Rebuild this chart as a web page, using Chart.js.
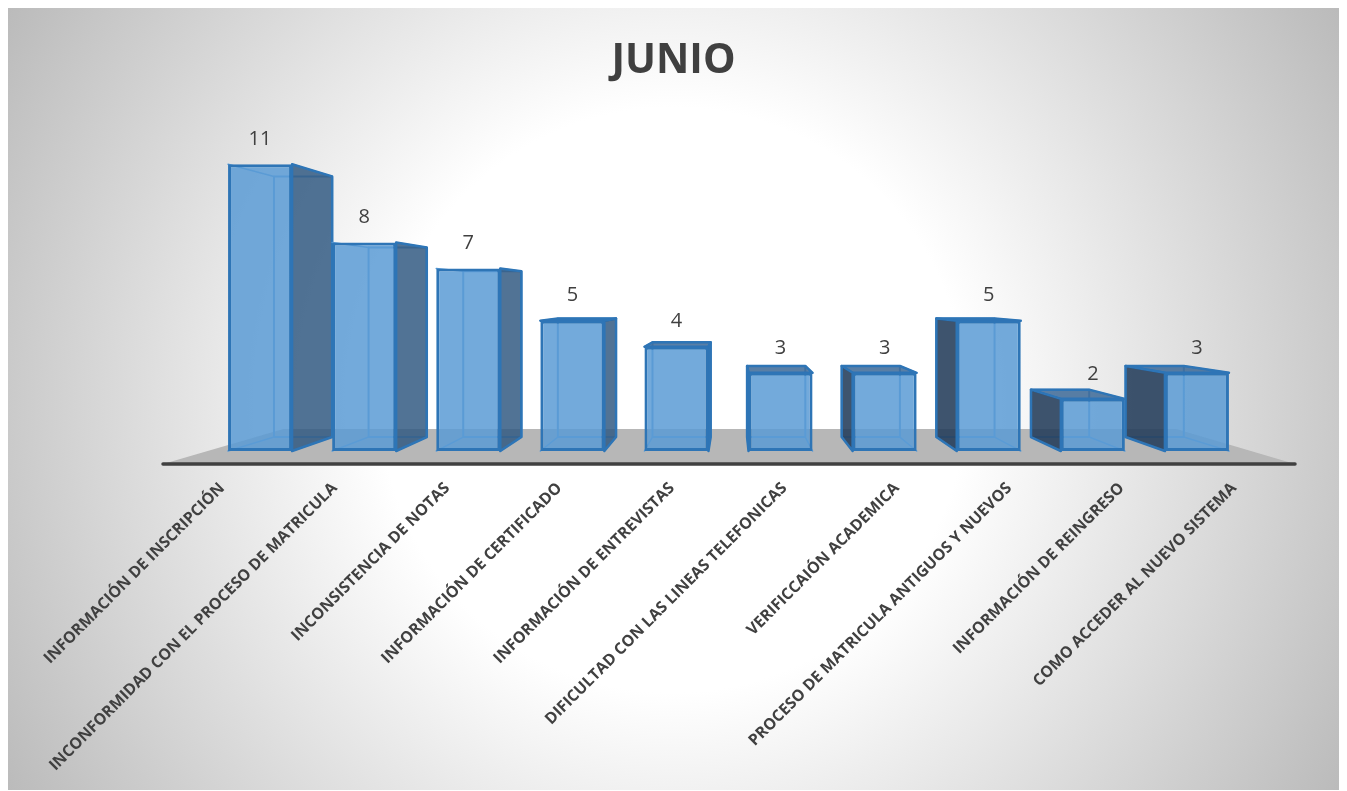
<!DOCTYPE html>
<html lang="es">
<head>
<meta charset="UTF-8" />
<title>JUNIO</title>
<style>
  body {
    margin: 0;
    background: #fff;
  }
  .card {
    position: absolute;
    left: 8px;
    top: 8px;
    width: 1331px;
    height: 782px;
    background: radial-gradient(circle 770px at 665px 392px, #fff 38%, #bbb 100%);
  }
  canvas {
    display: block;
  }
</style>
</head>
<body>

<div class="card">
  <canvas id="chart" width="1331" height="782"></canvas>
</div>

<script src="https://cdn.jsdelivr.net/npm/chart.js"></script>
<script>
const categories = [
    'INFORMACIÓN DE INSCRIPCIÓN',
    'INCONFORMIDAD CON EL PROCESO DE MATRICULA',
    'INCONSISTENCIA DE NOTAS',
    'INFORMACIÓN DE CERTIFICADO',
    'INFORMACIÓN DE ENTREVISTAS',
    'DIFICULTAD CON LAS LINEAS TELEFONICAS',
    'VERIFICCAIÓN ACADEMICA',
    'PROCESO DE MATRICULA ANTIGUOS Y NUEVOS',
    'INFORMACIÓN DE REINGRESO',
    'COMO ACCEDER AL NUEVO SISTEMA'
];
const values = [11, 8, 7, 5, 4, 3, 3, 5, 2, 3];

// perspective of the fake 3D box, in scale units
const VANISH_INDEX = 4.54;
const VANISH_VALUE = 5.88;
const BOX_DEPTH = 0.909;
const FLOOR_DEPTH = 0.789;
const FLOOR_VALUE = -0.5;
const LABEL_SPREAD = 1.08;

const EDGE = '#2e75b6';
const INNER = '#5b9bd5';

function vanishPoint(chart) {
    return {
        x: chart.scales.x.getPixelForValue(VANISH_INDEX),
        y: chart.scales.y.getPixelForValue(VANISH_VALUE)
    };
}

function poly(ctx, pts, fill, stroke, lw) {
    ctx.beginPath();
    pts.forEach((p, i) => i ? ctx.lineTo(p[0], p[1]) : ctx.moveTo(p[0], p[1]));
    ctx.closePath();
    if (fill) { ctx.fillStyle = fill; ctx.fill(); }
    if (stroke) { ctx.strokeStyle = stroke; ctx.lineWidth = lw; ctx.stroke(); }
}

const boxPlugin = {
    id: 'box3d',
    beforeDatasetsDraw(chart) {
        const ctx = chart.ctx;
        const vp = vanishPoint(chart);
        const x = chart.scales.x;
        const y = chart.scales.y;
        const back = (px, py, s) => [vp.x + (px - vp.x) * s, vp.y + (py - vp.y) * s];

        // floor
        const fy = y.getPixelForValue(FLOOR_VALUE);
        const fl = x.left - 45;
        const fr = x.right + 46;
        ctx.save();
        poly(ctx, [[fl, fy], [fr, fy], back(fr, fy, FLOOR_DEPTH), back(fl, fy, FLOOR_DEPTH)], '#b7b7b7');
        ctx.beginPath();
        ctx.moveTo(fl, fy);
        ctx.lineTo(fr, fy);
        ctx.lineCap = 'round';
        ctx.lineWidth = 3.5;
        ctx.strokeStyle = '#404040';
        ctx.stroke();

        chart.getDatasetMeta(0).data.forEach(bar => {
            const l = bar.x - bar.width / 2;
            const r = bar.x + bar.width / 2;
            const t = bar.y;
            const b = bar.base;
            const bs = (px, py) => back(px, py, BOX_DEPTH);

            // inside lines seen through the front
            ctx.lineJoin = 'round';
            poly(ctx, [bs(l, t), bs(r, t), bs(r, b), bs(l, b)], null, INNER, 2);
            [[l, t], [r, t], [r, b], [l, b]].forEach(c => {
                const e = bs(c[0], c[1]);
                ctx.beginPath();
                ctx.moveTo(c[0], c[1]);
                ctx.lineTo(e[0], e[1]);
                ctx.strokeStyle = INNER;
                ctx.lineWidth = 1.5;
                ctx.stroke();
            });

            // top is only seen on boxes lower than the eye
            if (t > vp.y) {
                poly(ctx, [[l, t], [r, t], bs(r, t), bs(l, t)], 'rgba(60,105,150,0.85)', EDGE, 2.5);
            }
            if (r < vp.x) {
                poly(ctx, [[r, t], bs(r, t), bs(r, b), [r, b]], 'rgba(50,90,130,0.85)', EDGE, 2.5);
            }
            if (l > vp.x) {
                poly(ctx, [[l, t], bs(l, t), bs(l, b), [l, b]], 'rgba(35,60,90,0.88)', EDGE, 2.5);
            }
        });
        ctx.restore();
    },
    afterDatasetsDraw(chart) {
        const ctx = chart.ctx;
        ctx.save();
        ctx.font = '20px "Open Sans"';
        ctx.fillStyle = '#404040';
        ctx.textAlign = 'center';
        ctx.textBaseline = 'middle';
        chart.getDatasetMeta(0).data.forEach((bar, i) => {
            ctx.fillText(values[i], bar.x, bar.y - 25);
        });
        ctx.restore();
    }
};

// empty axes that only hold the side margins, so the title stays centred on the card
const marginAxis = (position, width) => ({
    position: position,
    min: 0,
    max: 12,
    ticks: {display: false},
    grid: {display: false},
    border: {display: false},
    afterFit(scale) { scale.width = width; }
});

new Chart(document.getElementById('chart').getContext('2d'), {
    type: 'bar',
    data: {
        labels: categories,
        datasets: [{
            data: values,
            backgroundColor: 'rgba(91,155,213,0.85)',
            borderColor: EDGE,
            borderWidth: 3,
            borderSkipped: false,
            barPercentage: 0.615,
            categoryPercentage: 1
        }]
    },
    options: {
        responsive: false,
        animation: false,
        plugins: {
            legend: {display: false},
            tooltip: {enabled: false},
            title: {
                display: true,
                text: 'JUNIO',
                color: '#404040',
                font: {family: '"Open Sans"', size: 41, weight: 'bold'},
                padding: {top: 29, bottom: 52}
            }
        },
        scales: {
            y: marginAxis('left', 200),
            yRight: marginAxis('right', 90),
            x: {
                grid: {display: false},
                border: {display: false},
                afterFit(scale) {
                    scale.height = 339;
                    // labels follow the front edge of the floor, wider than the bars
                    scale.getPixelForTick = function (i) {
                        const vx = this.getPixelForValue(VANISH_INDEX);
                        return vx + (this.getPixelForValue(i) - vx) * LABEL_SPREAD;
                    };
                },
                ticks: {
                    autoSkip: false,
                    minRotation: 45,
                    maxRotation: 45,
                    padding: 20,
                    color: '#404040',
                    font: {family: '"Open Sans"', size: 15.8, weight: 'bold'}
                }
            }
        }
    },
    plugins: [boxPlugin]
});
</script>

</body>
</html>
